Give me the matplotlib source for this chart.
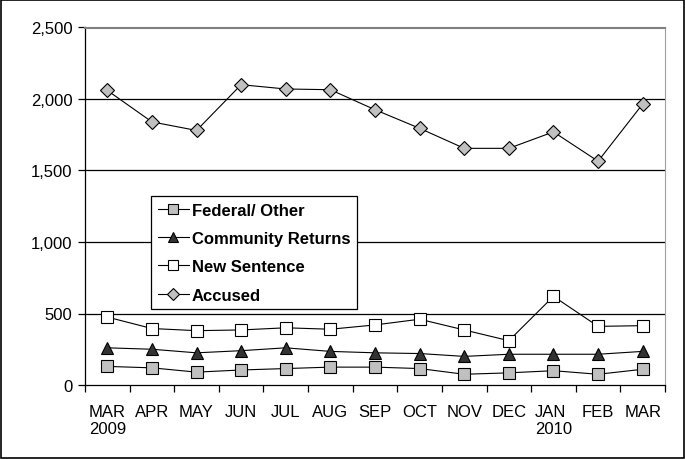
import numpy as np
import matplotlib
matplotlib.use('Agg')
import matplotlib.pyplot as plt
from matplotlib.patches import Rectangle

plt.rcParams['font.family'] = ['Liberation Sans', 'DejaVu Sans']

# Données
months = ["MAR\n2009", "APR", "MAY", "JUN", "JUL", "AUG", "SEP",
          "OCT", "NOV", "DEC", "JAN\n2010", "FEB", "MAR"]
federal = [130, 120, 90, 105, 115, 125, 125, 115, 75, 85, 100, 75, 110]
community = [260, 250, 225, 240, 260, 235, 225, 220, 200, 215, 215, 215, 235]
new_sentence = [475, 395, 380, 385, 400, 390, 420, 460, 385, 310, 620, 410, 415]
accused = [2060, 1840, 1780, 2100, 2070, 2065, 1925, 1795, 1655, 1655, 1770, 1565, 1965]

fig = plt.figure(figsize=(6.85, 4.6), dpi=100)
ax = fig.add_axes([85/685, 1 - 386/460, 580/685, 357.5/460])

x = np.arange(len(months))
ax.plot(x, federal, color='black', lw=0.8, marker='s', ms=9,
        mfc='#c0c0c0', mec='black', mew=0.8, label='Federal/ Other')
ax.plot(x, community, color='black', lw=0.8, marker='^', ms=9,
        mfc='#333333', mec='black', mew=0.8, label='Community Returns')
ax.plot(x, new_sentence, color='black', lw=0.8, marker='s', ms=9,
        mfc='white', mec='black', mew=0.8, label='New Sentence')
ax.plot(x, accused, color='black', lw=0.8, marker='D', ms=7,
        mfc='#c0c0c0', mec='black', mew=0.8, label='Accused')

ax.set_xlim(-0.5, len(months) - 0.5)
ax.set_ylim(0, 2500)
ax.set_yticks(np.arange(0, 2501, 500))
ax.set_yticklabels([f"{v:,}" for v in range(0, 2501, 500)])
for v in range(500, 2500, 500):
    ax.axhline(v, color='black', lw=0.9, zorder=0)

ax.set_xticks(x)
ax.set_xticklabels(months, ha='center', va='top', multialignment='left',
                   linespacing=1.15)
ax.set_xticks(np.arange(-0.5, len(months), 1), minor=True)
ax.tick_params(axis='x', which='major', length=0, pad=14, labelsize=12)
ax.tick_params(axis='x', which='minor', length=5, direction='out', width=0.9)
ax.tick_params(axis='y', length=5, direction='out', width=0.9, labelsize=12, pad=4)

ax.spines['top'].set_color('#808080')
ax.spines['right'].set_color('#a0a0a0')
ax.spines['top'].set_linewidth(1.5)
ax.spines['left'].set_linewidth(0.9)
ax.spines['bottom'].set_linewidth(0.9)

leg = ax.legend(loc='upper left', bbox_to_anchor=(0.114, 0.529), borderaxespad=0,
                fancybox=False, edgecolor='black', framealpha=1,
                prop={'weight': 'bold', 'size': 12}, handlelength=1.85,
                handletextpad=0.2, labelspacing=0.8, borderpad=0.4)
leg.get_frame().set_linewidth(0.9)
for h in leg.legend_handles:
    h.set_markersize(6.5)

fig.patches.append(Rectangle((0.002, 0.002), 0.996, 0.996, transform=fig.transFigure,
                             fill=False, edgecolor='black', lw=1.2))

plt.savefig("out.png", dpi=100)
